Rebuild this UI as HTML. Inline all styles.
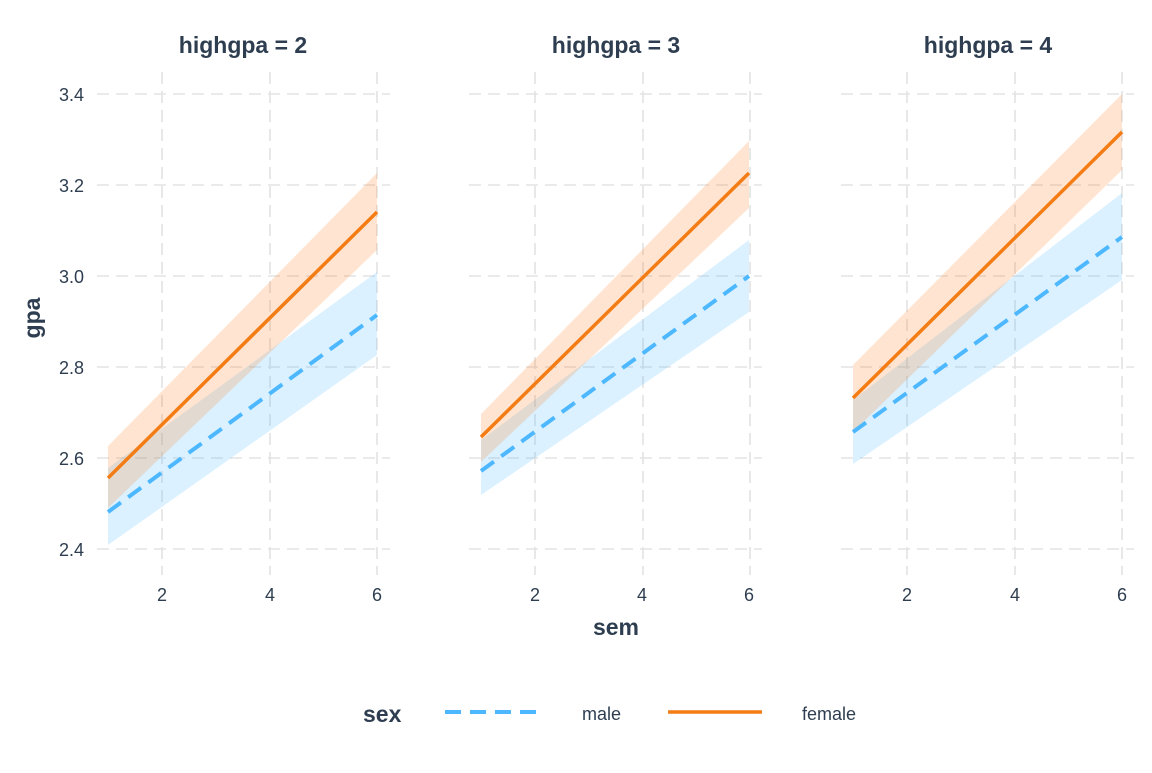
<!DOCTYPE html>
<html><head><meta charset="utf-8"><style>
html,body{margin:0;padding:0;background:#fff;}
text{font-family:"Liberation Sans",Arial,sans-serif;}
</style></head><body>
<svg width="1152" height="768" viewBox="0 0 1152 768" xmlns="http://www.w3.org/2000/svg">
<g stroke="#e3e3e3" stroke-width="1.6" stroke-dasharray="12,7" fill="none">
  <g id="h">
    <line x1="97" x2="390" y1="94" y2="94"/><line x1="97" x2="390" y1="185" y2="185"/>
    <line x1="97" x2="390" y1="276" y2="276"/><line x1="97" x2="390" y1="367" y2="367"/>
    <line x1="97" x2="390" y1="458" y2="458"/><line x1="97" x2="390" y1="549" y2="549"/>
  </g>
  <use href="#h" x="372"/><use href="#h" x="744"/>
  <g id="v">
    <line x1="162" x2="162" y1="72" y2="575"/><line x1="270" x2="270" y1="72" y2="575"/><line x1="377" x2="377" y1="72" y2="575"/>
  </g>
  <use href="#v" x="373"/><use href="#v" x="745"/>
</g>
<!-- panel 1 -->
<polygon points="108,468 377,272 377,355 108,545" fill="#4db8ff" fill-opacity="0.2"/>
<polygon points="108,446 377,173 377,250 108,508" fill="#ff7f1a" fill-opacity="0.2"/>
<line x1="108" y1="512" x2="377" y2="315" stroke="#4db8ff" stroke-width="4" stroke-dasharray="16,9"/>
<line x1="108" y1="478" x2="377" y2="212" stroke="#f47c14" stroke-width="3.5"/>
<!-- panel 2 -->
<polygon points="481,440 749,240 749,312 481,495" fill="#4db8ff" fill-opacity="0.2"/>
<polygon points="481,414 749,141 749,208 481,462" fill="#ff7f1a" fill-opacity="0.2"/>
<line x1="481" y1="471" x2="749" y2="276" stroke="#4db8ff" stroke-width="4" stroke-dasharray="16,9"/>
<line x1="481" y1="437" x2="749" y2="173" stroke="#f47c14" stroke-width="3.5"/>
<!-- panel 3 -->
<polygon points="853,400 1122,193 1122,280 853,464" fill="#4db8ff" fill-opacity="0.2"/>
<polygon points="853,365 1122,94 1122,170 853,432" fill="#ff7f1a" fill-opacity="0.2"/>
<line x1="853" y1="432" x2="1122" y2="237" stroke="#4db8ff" stroke-width="4" stroke-dasharray="16,9"/>
<line x1="853" y1="398" x2="1122" y2="132" stroke="#f47c14" stroke-width="3.5"/>
<g font-size="23" font-weight="bold" fill="#2e3e50" text-anchor="middle">
<text x="243" y="53">highgpa = 2</text><text x="616" y="53">highgpa = 3</text><text x="988" y="53">highgpa = 4</text>
</g>
<g font-size="18" fill="#2e3e50" text-anchor="end">
<text x="84" y="101">3.4</text><text x="84" y="192">3.2</text><text x="84" y="283">3.0</text>
<text x="84" y="374">2.8</text><text x="84" y="465">2.6</text><text x="84" y="556">2.4</text>
</g>
<g font-size="18" fill="#2e3e50" text-anchor="middle">
<text x="162" y="601">2</text><text x="270" y="601">4</text><text x="377" y="601">6</text>
<text x="535" y="601">2</text><text x="642" y="601">4</text><text x="749" y="601">6</text>
<text x="907" y="601">2</text><text x="1015" y="601">4</text><text x="1122" y="601">6</text>
</g>
<text x="616" y="635" font-size="23" font-weight="bold" fill="#2e3e50" text-anchor="middle">sem</text>
<text transform="translate(40,318) rotate(-90)" font-size="23" font-weight="bold" fill="#2e3e50" text-anchor="middle">gpa</text>
<text x="363" y="722" font-size="23" font-weight="bold" fill="#2e3e50">sex</text>
<line x1="445" y1="712" x2="542" y2="712" stroke="#4db8ff" stroke-width="4" stroke-dasharray="16,9"/>
<text x="582" y="720" font-size="18" fill="#2e3e50">male</text>
<line x1="668" y1="712" x2="762" y2="712" stroke="#f47c14" stroke-width="3.5"/>
<text x="802" y="720" font-size="18" fill="#2e3e50">female</text>
</svg>
</body></html>
